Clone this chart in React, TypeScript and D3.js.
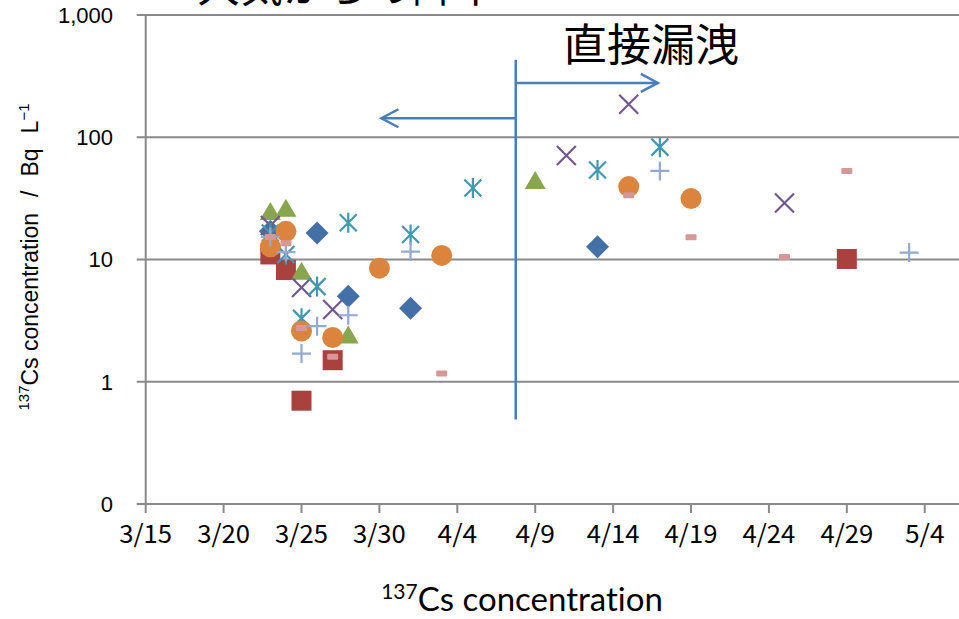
import React from "react";
import * as d3 from "d3";

const W = 959, H = 619;

// series: [date (M/D), value]
const seriesDiamond: [string, number][] = [["3/23", 17], ["3/26", 16.5], ["3/28", 5.0], ["4/1", 4.0], ["4/13", 12.7]];
const seriesSquare: [string, number][] = [["3/23", 11], ["3/24", 8.2], ["3/25", 0.7], ["3/27", 1.5], ["4/29", 10.1]];
const seriesTriangle: [string, number][] = [["3/23", 24], ["3/24", 25.5], ["3/25", 7.8], ["3/28", 2.35], ["4/9", 43]];
const seriesCross: [string, number][] = [["3/23", 19], ["3/25", 5.9], ["3/27", 3.9], ["4/11", 71], ["4/15", 186], ["4/25", 29]];
const seriesStar: [string, number][] = [["3/23", 16.5], ["3/24", 11], ["3/25", 3.3], ["3/26", 6.0], ["3/28", 20], ["4/1", 16], ["4/5", 38.5], ["4/13", 54], ["4/17", 83]];
const seriesCircle: [string, number][] = [["3/23", 12.7], ["3/24", 17], ["3/25", 2.6], ["3/27", 2.3], ["3/30", 8.5], ["4/3", 10.8], ["4/15", 39.5], ["4/19", 31.5]];
const seriesPlus: [string, number][] = [["3/23", 15.3], ["3/24", 11.5], ["3/25", 1.7], ["3/26", 2.85], ["3/28", 3.5], ["4/1", 11.6], ["4/17", 53], ["5/3", 11.4]];
const seriesDash: [string, number][] = [["3/23", 15.3], ["3/24", 13.6], ["3/25", 2.75], ["3/27", 1.6], ["4/3", 1.17], ["4/15", 33.5], ["4/19", 15.2], ["4/25", 10.5], ["4/29", 53]];

const xTickLabels = ["3/15", "3/20", "3/25", "3/30", "4/4", "4/9", "4/14", "4/19", "4/24", "4/29", "5/4"];
const yTickValues = [0.1, 1, 10, 100, 1000];
const yTickLabels = ["0", "1", "10", "100", "1,000"];

const LEAK_START = 23.75; // days after 3/15 (vertical divider)
const DIRECT_ARROW_END = "4/17";
const ATMOS_ARROW_END = "3/30";

const colors = {
  diamond: "#4470A8",
  square: "#A9423F",
  triangle: "#89A54E",
  cross: "#71588F",
  star: "#4198AF",
  circle: "#DB843D",
  plus: "#93A9CF",
  dash: "#D69896",
  axis: "#8A8A8A",
  arrow: "#4A7EBB",
};

const BASE = Date.UTC(2011, 2, 15);
const DAY = 86400000;
const toDay = (md: string) => {
  const [m, d] = md.split("/").map(Number);
  return (Date.UTC(2011, m - 1, d) - BASE) / DAY;
};

export default function App() {
  const x = d3.scaleLinear().domain([0, 52.2]).range([145.7, 959]);
  const y = d3.scaleLog().domain([0.1, 1000]).range([504, 15]);
  const x0 = x(0);

  const px = (p: [string, number]) => x(toDay(p[0]));
  const py = (p: [string, number]) => y(p[1]);

  const diamond = (cx: number, cy: number, k: number) => {
    const r = 11.5;
    return <path key={k} d={`M${cx},${cy - r}L${cx + r},${cy}L${cx},${cy + r}L${cx - r},${cy}Z`} fill={colors.diamond} />;
  };
  const square = (cx: number, cy: number, k: number) => (
    <rect key={k} x={cx - 10} y={cy - 10} width={20} height={20} fill={colors.square} />
  );
  const triangle = (cx: number, cy: number, k: number) => (
    <path key={k} d={`M${cx},${cy - 11}L${cx + 10.5},${cy + 7}L${cx - 10.5},${cy + 7}Z`} fill={colors.triangle} />
  );
  const cross = (cx: number, cy: number, k: number) => (
    <path key={k} d={`M${cx - 9.5},${cy - 9.5}L${cx + 9.5},${cy + 9.5}M${cx - 9.5},${cy + 9.5}L${cx + 9.5},${cy - 9.5}`} stroke={colors.cross} strokeWidth={2.2} />
  );
  const star = (cx: number, cy: number, k: number) => (
    <path key={k} d={`M${cx - 8.5},${cy - 8.5}L${cx + 8.5},${cy + 8.5}M${cx - 8.5},${cy + 8.5}L${cx + 8.5},${cy - 8.5}M${cx},${cy - 10}L${cx},${cy + 10}`} stroke={colors.star} strokeWidth={2.2} />
  );
  const circle = (cx: number, cy: number, k: number) => (
    <circle key={k} cx={cx} cy={cy} r={10.5} fill={colors.circle} />
  );
  const plus = (cx: number, cy: number, k: number) => (
    <path key={k} d={`M${cx - 9.5},${cy}L${cx + 9.5},${cy}M${cx},${cy - 9.5}L${cx},${cy + 9.5}`} stroke={colors.plus} strokeWidth={2.2} />
  );
  const dash = (cx: number, cy: number, k: number) => (
    <rect key={k} x={cx - 5.5} y={cy - 3} width={11} height={6} rx={1} fill={colors.dash} />
  );

  const leakX = x(LEAK_START);
  const rightEnd = x(toDay(DIRECT_ARROW_END)) - 2;
  const leftEnd = x(toDay(ATMOS_ARROW_END)) + 2;
  const yRight = y(278);
  const yLeft = y(143);

  return (
    <svg width={W} height={H} style={{ position: "absolute", left: 0, top: 0, background: "#fff" }}>
      <rect width={W} height={H} fill="#fff" />
      {/* gridlines */}
      {yTickValues.slice(1).map((v) => (
        <line key={v} x1={x0 - 9} x2={W} y1={y(v)} y2={y(v)} stroke={colors.axis} strokeWidth={2} />
      ))}
      {/* axes */}
      <line x1={x0} x2={x0} y1={y(1000)} y2={y(0.1)} stroke={colors.axis} strokeWidth={2} />
      <line x1={x0 - 9} x2={W} y1={y(0.1)} y2={y(0.1)} stroke={colors.axis} strokeWidth={2} />
      {xTickLabels.map((t, i) => (
        <line key={t} x1={x(i * 5)} x2={x(i * 5)} y1={y(0.1)} y2={y(0.1) + 9} stroke={colors.axis} strokeWidth={2} />
      ))}
      {yTickValues.map((v, i) => (
        <text key={v} x={113} y={y(v)} dy="0.36em" textAnchor="end" fontFamily="Liberation Sans, Arial, sans-serif" fontSize={22} fill="#000">
          {yTickLabels[i]}
        </text>
      ))}
      {xTickLabels.map((t, i) => (
        <text key={t} x={x(i * 5)} y={543} textAnchor="middle" fontFamily="Noto Sans CJK JP" fontSize={25}
          textLength={t.length * 13.2} lengthAdjust="spacingAndGlyphs" fill="#000">
          {t}
        </text>
      ))}

      {/* markers */}
      {seriesDiamond.map((p, i) => diamond(px(p), py(p), i))}
      {seriesSquare.map((p, i) => square(px(p), py(p), i))}
      {seriesTriangle.map((p, i) => triangle(px(p), py(p), i))}
      {seriesCross.map((p, i) => cross(px(p), py(p), i))}
      {seriesStar.map((p, i) => star(px(p), py(p), i))}
      {seriesCircle.map((p, i) => circle(px(p), py(p), i))}
      {seriesPlus.map((p, i) => plus(px(p), py(p), i))}
      {seriesDash.map((p, i) => dash(px(p), py(p), i))}

      {/* divider and arrows */}
      <g stroke={colors.arrow} strokeWidth={2.5} fill="none">
        <line x1={leakX} x2={leakX} y1={y(430)} y2={y(0.49)} />
        <line x1={leakX} x2={rightEnd} y1={yRight} y2={yRight} />
        <path d={`M${rightEnd - 17},${yRight - 9}L${rightEnd},${yRight}L${rightEnd - 17},${yRight + 9}`} />
        <line x1={leakX} x2={leftEnd} y1={yLeft} y2={yLeft} />
        <path d={`M${leftEnd + 17},${yLeft - 9}L${leftEnd},${yLeft}L${leftEnd + 17},${yLeft + 9}`} />
      </g>

      <text x={651} y={61} textAnchor="middle" fontFamily="Noto Sans CJK JP" fontSize={44} fill="#000">直接漏洩</text>
      <text x={197} y={2} fontFamily="Noto Sans CJK JP" fontSize={43} fill="#000">大気からの降下</text>

      {/* axis titles */}
      <text transform={`translate(38,257) rotate(-90)`} textAnchor="middle" fontFamily="Liberation Sans, Arial, sans-serif" fontSize={23} fill="#000">
        <tspan fontSize={15} dy={-9}>137</tspan>
        <tspan dy={9}>Cs concentration</tspan>
        <tspan dx={16}>/</tspan>
        <tspan dx={14}>Bq</tspan>
        <tspan dx={15}>L</tspan>
        <tspan fontSize={15} dy={-9}>−1</tspan>
      </text>
      <text x={522} y={611} textAnchor="middle" fontFamily="Lato, Open Sans, sans-serif" fontSize={33}
        style={{ fontVariantLigatures: "none" }} fill="#000">
        <tspan fontSize={21} dy={-12}>137</tspan>
        <tspan dy={12}>Cs concentration</tspan>
      </text>
    </svg>
  );
}
